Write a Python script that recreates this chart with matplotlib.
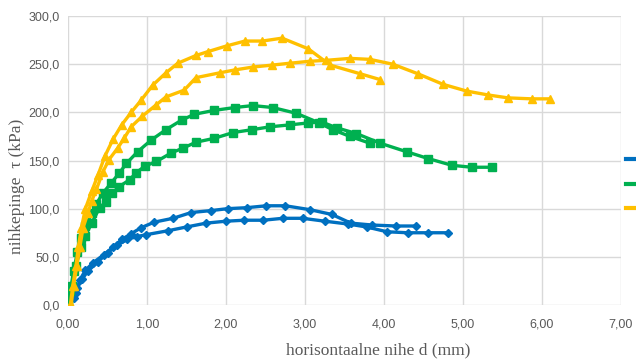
import numpy as np
import matplotlib.pyplot as plt
from matplotlib.ticker import FuncFormatter, MultipleLocator
from matplotlib.lines import Line2D

# blue series (diamonds)
blue1_d = [0.10, 0.15, 0.22, 0.32, 0.45, 0.57, 0.68, 0.80, 0.92, 1.09, 1.33, 1.56, 1.81, 2.02, 2.26, 2.51, 2.75, 3.06, 3.34, 3.58, 3.85, 4.15, 4.40]
blue1_t = [12, 26, 36, 44, 52, 60, 68, 74, 80, 86, 90, 96, 98, 100, 101, 103, 103, 99, 94, 85, 83, 82, 82]
blue2_d = [0.08, 0.12, 0.18, 0.25, 0.38, 0.50, 0.62, 0.75, 0.87, 0.99, 1.26, 1.50, 1.75, 2.00, 2.23, 2.47, 2.72, 2.97, 3.25, 3.55, 3.78, 4.04, 4.30, 4.56, 4.81]
blue2_t = [7, 18, 27, 35, 45, 54, 62, 68, 71, 73, 77, 81, 85, 87, 88, 88, 90, 90, 87, 84, 81, 76, 75, 75, 75]

# green series (squares)
green1_d = [0.00, 0.03, 0.07, 0.12, 0.17, 0.22, 0.30, 0.36, 0.44, 0.55, 0.65, 0.74, 0.88, 1.05, 1.24, 1.44, 1.60, 1.85, 2.11, 2.34, 2.59, 2.89, 3.18, 3.35, 3.57, 3.82]
green1_t = [0, 15, 35, 55, 70, 82, 95, 105, 116, 127, 137, 147, 159, 171, 182, 192, 198, 202, 205, 207, 205, 199, 189, 182, 175, 168]
green2_d = [0.00, 0.05, 0.10, 0.16, 0.22, 0.30, 0.40, 0.48, 0.56, 0.65, 0.78, 0.86, 0.97, 1.12, 1.31, 1.46, 1.62, 1.85, 2.09, 2.33, 2.56, 2.81, 3.04, 3.21, 3.40, 3.65, 3.95, 4.29, 4.56, 4.86, 5.11, 5.37]
green2_t = [0, 20, 40, 60, 72, 85, 101, 107, 116, 123, 130, 137, 144, 149, 158, 163, 169, 173, 179, 182, 185, 187, 189, 190, 184, 178, 168, 159, 152, 145, 143, 143]

# yellow series (triangles)
yel1_d = [0.03, 0.06, 0.10, 0.13, 0.17, 0.22, 0.30, 0.38, 0.47, 0.57, 0.68, 0.80, 0.93, 1.07, 1.24, 1.39, 1.62, 1.77, 2.01, 2.24, 2.46, 2.71, 3.04, 3.32, 3.70, 3.95]
yel1_t = [0, 20, 40, 60, 80, 100, 118, 135, 155, 172, 187, 200, 213, 228, 241, 251, 259, 263, 269, 274, 274, 277, 266, 249, 240, 234]
yel2_d = [0.04, 0.07, 0.11, 0.15, 0.19, 0.25, 0.30, 0.36, 0.44, 0.52, 0.63, 0.71, 0.80, 0.94, 1.12, 1.24, 1.47, 1.62, 1.92, 2.11, 2.34, 2.58, 2.81, 3.06, 3.27, 3.57, 3.82, 4.11, 4.43, 4.75, 5.05, 5.32, 5.57, 5.87, 6.10]
yel2_t = [0, 20, 40, 60, 80, 95, 108, 120, 138, 151, 163, 173, 185, 196, 208, 216, 223, 236, 241, 244, 247, 249, 251, 253, 254, 256, 255, 250, 240, 229, 222, 218, 215, 214, 214]

blue = '#0070C0'
green = '#00B050'
yellow = '#FFC000'

def comma(fmt):
    return FuncFormatter(lambda v, p: (fmt % v).replace('.', ','))

fig = plt.figure(figsize=(6.36, 3.63), dpi=100)
ax = fig.add_axes([68/636, 1-305/363, 553/636, 289/363])

lw = 2.4
ax.plot(blue1_d, blue1_t, color=blue, lw=lw, marker='D', ms=4)
ax.plot(blue2_d, blue2_t, color=blue, lw=lw, marker='D', ms=4)
ax.plot(green1_d, green1_t, color=green, lw=lw, marker='s', ms=5.5)
ax.plot(green2_d, green2_t, color=green, lw=lw, marker='s', ms=5.5)
ax.plot(yel1_d, yel1_t, color=yellow, lw=lw, marker='^', ms=5.5)
ax.plot(yel2_d, yel2_t, color=yellow, lw=lw, marker='^', ms=5.5)

ax.set_xlim(0, 7)
ax.set_ylim(0, 300)
ax.xaxis.set_major_locator(MultipleLocator(1))
ax.yaxis.set_major_locator(MultipleLocator(50))
ax.xaxis.set_major_formatter(comma('%.2f'))
ax.yaxis.set_major_formatter(comma('%.1f'))
ax.grid(True, color='#D9D9D9', lw=1.0)
ax.set_axisbelow(True)
for s in ax.spines.values():
    s.set_visible(False)
ax.tick_params(length=0, labelsize=9, labelcolor='#595959')
ax.tick_params(axis='x', pad=10)
ax.tick_params(axis='y', pad=6)
for lab in ax.get_xticklabels() + ax.get_yticklabels():
    lab.set_fontfamily('Liberation Sans')

ax.set_xlabel('horisontaalne nihe d (mm)', family='Liberation Serif', fontsize=12.5, color='#595959')
ax.set_ylabel('nihkepinge  τ (kPa)', family='Liberation Serif', fontsize=12.5, color='#595959')
ax.xaxis.set_label_coords(310/553, -0.13)
ax.yaxis.set_label_coords(-0.077, 0.41)

handles = [Line2D([], [], color=c, lw=3) for c in (blue, green, yellow)]
fig.legend(handles, [' ', ' ', ' '], loc='upper left', bbox_to_anchor=(626/636, 1-155/363),
           frameon=False, borderpad=0, borderaxespad=0, handlelength=2, handletextpad=0.2,
           labelspacing=1.3, fontsize=8)

fig.savefig('out.png', dpi=100)
